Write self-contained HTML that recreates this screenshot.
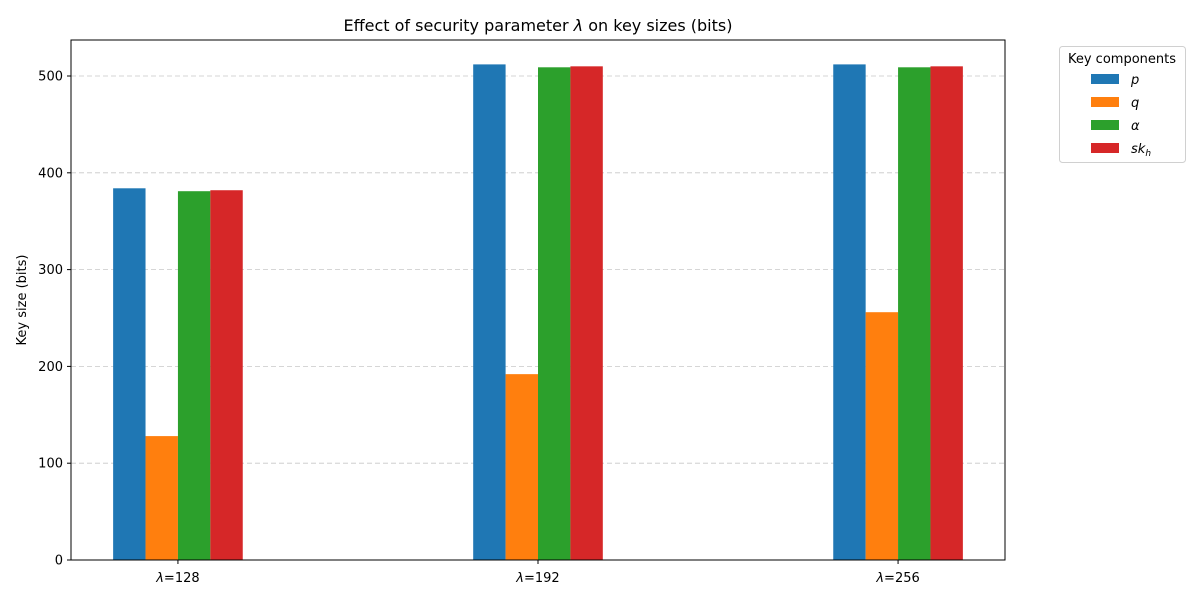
<!DOCTYPE html>
<html><head><meta charset="utf-8"><style>
body{margin:0;background:#fff;}
svg text{font-family:"DejaVu Sans","Liberation Sans",sans-serif;fill:#000;}
</style></head><body>
<svg id="c" width="1200" height="600" xmlns="http://www.w3.org/2000/svg">
<rect width="1200" height="600" fill="#fff"/>
<g id="grid"></g><g id="bars"></g><g id="axes"></g>
<text x="538" y="31" font-size="16" text-anchor="middle">Effect of security parameter <tspan font-style="italic">λ</tspan> on key sizes (bits)</text>
<text transform="translate(26,300) rotate(-90)" font-size="13" text-anchor="middle">Key size (bits)</text>
<g id="legend"></g>
</svg>
<script>
const categories=["128","192","256"];
const seriesNames=["p","q","α","sk"];
const pVals=[384,512,512];
const qVals=[128,192,256];
const aVals=[381,509,509];
const skVals=[382,510,510];
const yTicks=[0,100,200,300,400,500];
const colors=["#1f77b4","#ff7f0e","#2ca02c","#d62728"];
const series=[pVals,qVals,aVals,skVals];
const L=71,R=1005,T=40,B=560,xmin=-0.297,xmax=2.297,ymax=537.2;
const sx=v=>L+(v-xmin)/(xmax-xmin)*(R-L);
const sy=v=>B-v/ymax*(B-T);
const NS="http://www.w3.org/2000/svg";
function mk(tag,attrs,parent){const e=document.createElementNS(NS,tag);for(const k in attrs)e.setAttribute(k,attrs[k]);parent.appendChild(e);return e;}
const grid=document.getElementById('grid'),bars=document.getElementById('bars'),axes=document.getElementById('axes'),leg=document.getElementById('legend');
const unit=sx(1)-sx(0), bw=unit*0.09;
yTicks.forEach(t=>{
 const y=sy(t);
 if(t>0){const g=mk('line',{x1:L,x2:R,y1:y,y2:y,stroke:'#c8c8c8','stroke-dasharray':'5,3','stroke-width':0.8},grid);
 
 }
 mk('line',{x1:L-4,x2:L,y1:y,y2:y,stroke:'#000'},axes);
 const tx=mk('text',{x:L-8,y:y+4.5,'font-size':13,'text-anchor':'end'},axes);tx.textContent=t;
 
 
});
categories.forEach((c,i)=>{
 series.forEach((s,j)=>{
  const x=sx(i)+(j-2)*bw;
  const r=mk('rect',{x:x,y:sy(s[i]),width:bw,height:sy(0)-sy(s[i]),fill:colors[j]},bars);
  
  
 });
 const cx=sx(i);
 mk('line',{x1:cx,x2:cx,y1:B,y2:B+4,stroke:'#000'},axes);
 const tx=mk('text',{x:cx,y:B+22,'font-size':13,'text-anchor':'middle'},axes);
 tx.innerHTML='<tspan font-style="italic">λ</tspan>='+c;
 
 
});
const fr=mk('rect',{x:L,y:T,width:R-L,height:B-T,fill:'none',stroke:'#000','stroke-width':1},axes);


const lb=mk('rect',{x:1059.5,y:46.5,width:126,height:116,rx:3,fill:'#fff',stroke:'#d0d0d0'},leg);


const lt=mk('text',{x:1122,y:63,'font-size':13,'text-anchor':'middle'},leg);lt.textContent='Key components';


seriesNames.forEach((n,j)=>{
 const y=79+j*23;
 const sw=mk('rect',{x:1091,y:y-5,width:28,height:10,fill:colors[j]},leg);
 
 
 const t=mk('text',{x:1131,y:y+5,'font-size':13,'font-style':'italic'},leg);
 t.innerHTML=n==='sk'?'sk<tspan font-size="9" dy="3">h</tspan>':n;
 
 
});
</script>
</body></html>
